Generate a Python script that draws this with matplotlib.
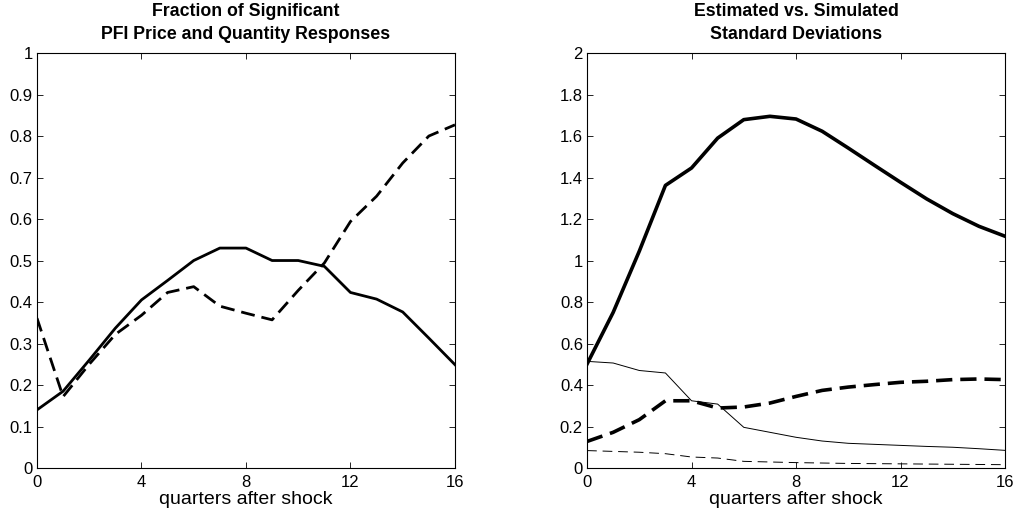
import matplotlib.pyplot as plt

plt.rcParams['font.family'] = ['Liberation Sans', 'DejaVu Sans']

quarters = list(range(17))

# left panel: fraction of significant responses
frac_solid = [0.14, 0.185, 0.26, 0.337, 0.405, 0.452, 0.5, 0.53, 0.53, 0.5,
              0.5, 0.486, 0.423, 0.407, 0.376, 0.313, 0.249]
frac_dashed = [0.361, 0.172, 0.25, 0.322, 0.368, 0.423, 0.437, 0.39, 0.373, 0.357,
               0.428, 0.494, 0.594, 0.655, 0.735, 0.8, 0.827]

# right panel: estimated vs simulated standard deviations
sd_thick_solid = [0.501, 0.75, 1.045, 1.362, 1.446, 1.59, 1.679, 1.695, 1.682,
                  1.623, 1.542, 1.459, 1.377, 1.297, 1.226, 1.165, 1.117]
sd_thin_solid = [0.514, 0.506, 0.47, 0.458, 0.324, 0.308, 0.196, 0.172, 0.148,
                 0.13, 0.119, 0.114, 0.109, 0.104, 0.1, 0.093, 0.085]
sd_thick_dashed = [0.128, 0.172, 0.233, 0.324, 0.324, 0.289, 0.294, 0.313, 0.345,
                   0.374, 0.39, 0.402, 0.413, 0.418, 0.426, 0.429, 0.426]
sd_thin_dashed = [0.084, 0.08, 0.076, 0.069, 0.053, 0.048, 0.032, 0.029, 0.026,
                  0.024, 0.022, 0.021, 0.02, 0.019, 0.018, 0.017, 0.016]

xticks = [0, 4, 8, 12, 16]

fig = plt.figure(figsize=(10.16, 5.2), dpi=100)
ax1 = fig.add_axes([0.0364, 0.1, 0.4114, 0.798])
ax2 = fig.add_axes([0.5778, 0.1, 0.4114, 0.798])

ax1.plot(quarters, frac_solid, color='black', lw=2.0)
ax1.plot(quarters, frac_dashed, color='black', lw=2.0, dashes=(5, 2.5))
ax1.set_ylim(0, 1)
ax1.set_yticks([0, 0.1, 0.2, 0.3, 0.4, 0.5, 0.6, 0.7, 0.8, 0.9, 1])
ax1.set_yticklabels(['0', '0.1', '0.2', '0.3', '0.4', '0.5', '0.6', '0.7', '0.8', '0.9', '1'])
ax1.set_title('Fraction of Significant\nPFI Price and Quantity Responses',
              fontsize=12.8, fontweight='bold', linespacing=1.45, pad=10)

ax2.plot(quarters, sd_thick_solid, color='black', lw=2.6)
ax2.plot(quarters, sd_thin_solid, color='black', lw=0.7)
ax2.plot(quarters, sd_thick_dashed, color='black', lw=2.6, dashes=(4.5, 2.2))
ax2.plot(quarters, sd_thin_dashed, color='black', lw=0.7, dashes=(10, 6))
ax2.set_ylim(0, 2)
ax2.set_yticks([0, 0.2, 0.4, 0.6, 0.8, 1, 1.2, 1.4, 1.6, 1.8, 2])
ax2.set_yticklabels(['0', '0.2', '0.4', '0.6', '0.8', '1', '1.2', '1.4', '1.6', '1.8', '2'])
ax2.set_title('Estimated vs. Simulated\nStandard Deviations',
              fontsize=12.8, fontweight='bold', linespacing=1.45, pad=10)

for ax in (ax1, ax2):
    ax.set_xlim(0, 16)
    ax.set_xticks(xticks)
    ax.set_xlabel('quarters after shock', fontsize=14, labelpad=1)
    ax.tick_params(direction='in', top=True, right=True, labelsize=12,
                   length=4, width=0.6)
    ax.tick_params(axis='x', pad=5)
    ax.tick_params(axis='y', pad=3)
    for s in ax.spines.values():
        s.set_linewidth(0.8)

fig.savefig('out.png', dpi=100)
